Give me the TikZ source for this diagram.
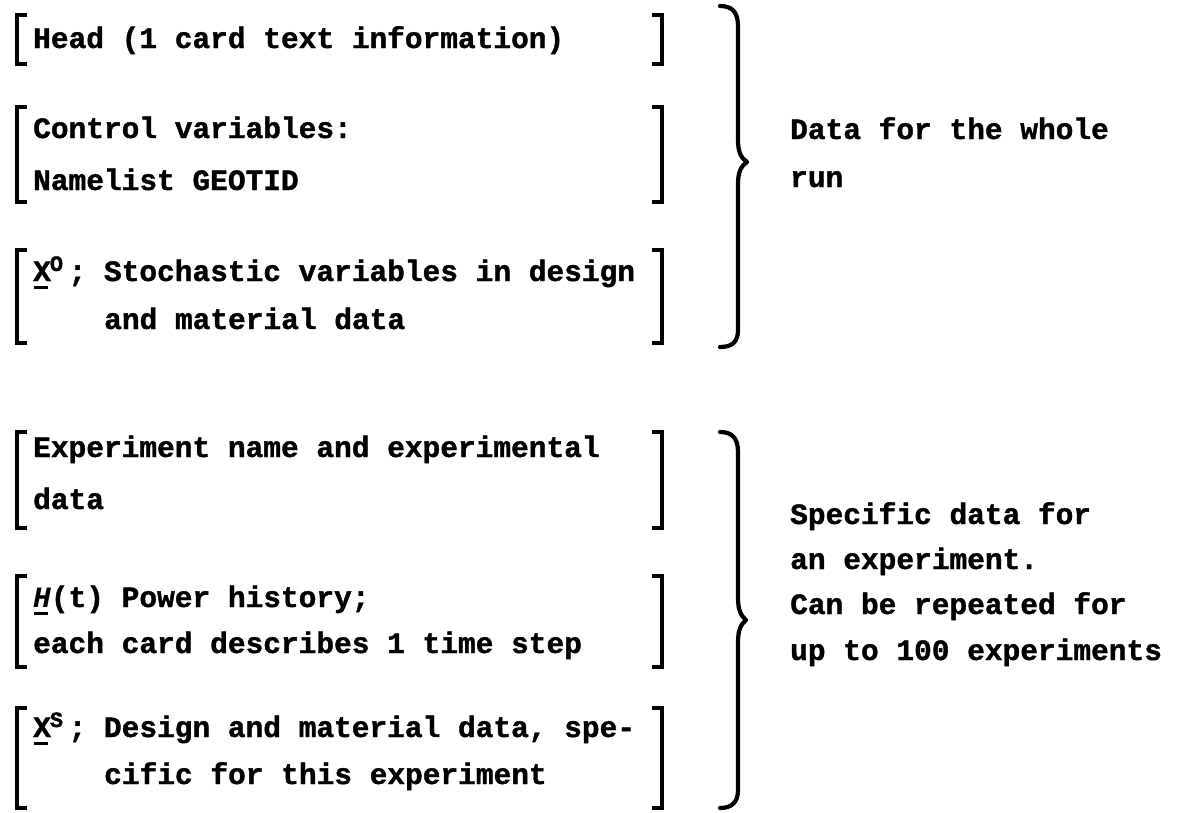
\documentclass[tikz,border=0pt]{standalone}
\usepackage{fontspec}
\setmainfont{Liberation Mono}[BoldFeatures={FakeBold=1.3}]
\newcommand\ulchar[1]{\makebox[0.6em][l]{\rlap{\hspace{1pt}\rule[-8pt]{14pt}{3.4pt}}#1}}
\newcommand\supchar[1]{\makebox[0.6em][l]{\hspace{-1pt}\raisebox{10pt}{\fontsize{22}{22}\selectfont #1}}}
\begin{document}
\begin{tikzpicture}[x=1pt,y=-1pt]
\tikzset{
  txt/.style={anchor=base west, inner sep=0pt, font=\fontsize{29.5}{36}\selectfont\bfseries},
  brk/.style={line width=3.8pt, line join=miter},
  brc/.style={line width=4.2pt, line cap=round, line join=round}
}
\useasboundingbox (0,0) rectangle (1178,812);
% brackets
\foreach \t/\b in {15/64,107/202,250/343,432/528,576/667,708/808}{
  \draw[brk] (27,\t) -- (17,\t) -- (17,\b) -- (27,\b);
  \draw[brk] (652,\t) -- (662,\t) -- (662,\b) -- (652,\b);
}
% left texts
\node[txt] (head) at (33,48) {Head (1 card text information)};
\node[txt] (ctl1) at (33,138) {Control variables:};
\node[txt] (ctl2) at (33,190) {Namelist GEOTID};
\node[txt] (xo1) at (33,281) {\ulchar{X}\supchar{O}; Stochastic variables in design};
\node[txt] (xo2) at (104,329) {and material data};
\node[txt] (ex1) at (33,457) {Experiment name and experimental};
\node[txt] (ex2) at (33,509) {data};
\node[txt] (ph1) at (33,607) {\ulchar{\itshape H}(t) Power history;};
\node[txt] (ph2) at (33,653) {each card describes 1 time step};
\node[txt] (xs1) at (33,737) {\ulchar{X}\supchar{S}; Design and material data, spe-};
\node[txt] (xs2) at (104,784) {cific for this experiment};
% braces
\draw[brc] (720,6) .. controls (732,6) and (738,12) .. (738,26)
  -- (738,140) .. controls (738,152) and (741,158) .. (747,162)
  .. controls (741,166) and (738,172) .. (738,184)
  -- (738,330) .. controls (738,342) and (732,347) .. (720,347);
\draw[brc] (720,432) .. controls (732,432) and (738,438) .. (738,452)
  -- (738,598) .. controls (738,610) and (741,616) .. (746,620)
  .. controls (741,624) and (738,630) .. (738,642)
  -- (738,790) .. controls (738,802) and (732,808) .. (720,808);
% right texts
\node[txt] (r1) at (790,139) {Data for the whole};
\node[txt] (r2) at (790,187) {run};
\node[txt] (s1) at (790,524) {Specific data for};
\node[txt] (s2) at (790,569) {an experiment.};
\node[txt] (s3) at (790,614) {Can be repeated for};
\node[txt] (s4) at (790,660) {up to 100 experiments};
\end{tikzpicture}
\end{document}
